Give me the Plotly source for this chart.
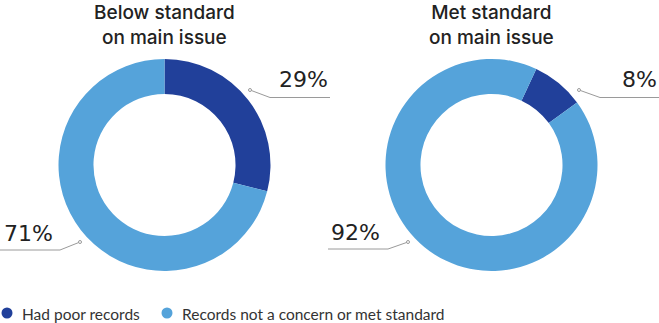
import plotly.graph_objects as go

W, H = 659, 323

# ---- data ----
categories = ["Had poor records", "Records not a concern or met standard"]
chart_titles = ["Below standard<br>on main issue", "Met standard<br>on main issue"]
below_values = [29, 71]
met_values = [8, 92]
colors = ["#21409a", "#55a3da"]


def px(x):
    return x / W


def py(y):
    return 1 - y / H


R = 106
fig = go.Figure()

centers = [(164.5, 165), (491.5, 165)]
rotations = [0, 25]
for (cx, cy), vals, rot in zip(centers, [below_values, met_values], rotations):
    fig.add_trace(go.Pie(
        labels=categories,
        values=vals,
        hole=0.67,
        sort=False,
        direction="clockwise",
        rotation=rot,
        marker=dict(colors=colors, line=dict(width=0)),
        textinfo="none",
        hoverinfo="label+percent",
        showlegend=False,
        domain=dict(x=[px(cx - R), px(cx + R)], y=[py(cy + R), py(cy - R)]),
    ))

annotations = []
shapes = []

title_font = dict(family="Inter", size=19, color="#222222", weight=500)
for (cx, cy), t in zip(centers, chart_titles):
    annotations.append(dict(
        x=px(cx), y=1, xref="paper", yref="paper", text=t,
        showarrow=False, xanchor="center", yanchor="top",
        font=title_font, align="center", borderpad=0,
    ))

# percent labels with leader lines
lab_font = dict(family="DejaVu Sans", size=22, color="#222222")
pct_labels = [
    (f"{below_values[0]}%", 330, "right", 80, [(250, 90), (270, 97.5), (330, 97.5)]),
    (f"{below_values[1]}%", 2, "left", 233, [(80, 242), (60, 250), (0, 250)]),
    (f"{met_values[0]}%", 659, "right", 80, [(579, 90), (600, 97.5), (659, 97.5)]),
    (f"{met_values[1]}%", 329, "left", 232, [(408, 242), (388, 249), (328, 249)]),
]
for text, tx, anchor, ty, pts in pct_labels:
    annotations.append(dict(
        x=px(tx), y=py(ty), xref="paper", yref="paper", text=text,
        showarrow=False, xanchor=anchor, yanchor="middle",
        font=lab_font,
    ))
    for (x0, y0), (x1, y1) in zip(pts[:-1], pts[1:]):
        shapes.append(dict(type="line", xref="paper", yref="paper",
                           x0=px(x0), y0=py(y0), x1=px(x1), y1=py(y1),
                           line=dict(color="#9a9a9a", width=1)))
    dx, dy = pts[0]
    shapes.append(dict(type="circle", xref="paper", yref="paper",
                       x0=px(dx - 1.5), x1=px(dx + 1.5), y0=py(dy + 1.5), y1=py(dy - 1.5),
                       line=dict(color="#9a9a9a", width=1), fillcolor="white"))

# legend
leg_font = dict(family="Lato", size=15.5, color="#333333")
leg_items = [(7, categories[0], colors[0]), (167, categories[1], colors[1])]
for lx, name, col in leg_items:
    shapes.append(dict(type="circle", xref="paper", yref="paper",
                       x0=px(lx - 5.5), x1=px(lx + 5.5), y0=py(313 + 5.5), y1=py(313 - 5.5),
                       line=dict(width=0), fillcolor=col))
    annotations.append(dict(
        x=px(lx + 13), y=py(313.5), xref="paper", yref="paper", text=name,
        showarrow=False, xanchor="left", yanchor="middle", font=leg_font,
    ))

fig.update_layout(
    width=W, height=H,
    margin=dict(l=0, r=0, t=0, b=0),
    paper_bgcolor="white", plot_bgcolor="white",
    annotations=annotations, shapes=shapes,
    showlegend=False,
)

fig.write_html("out.html")
